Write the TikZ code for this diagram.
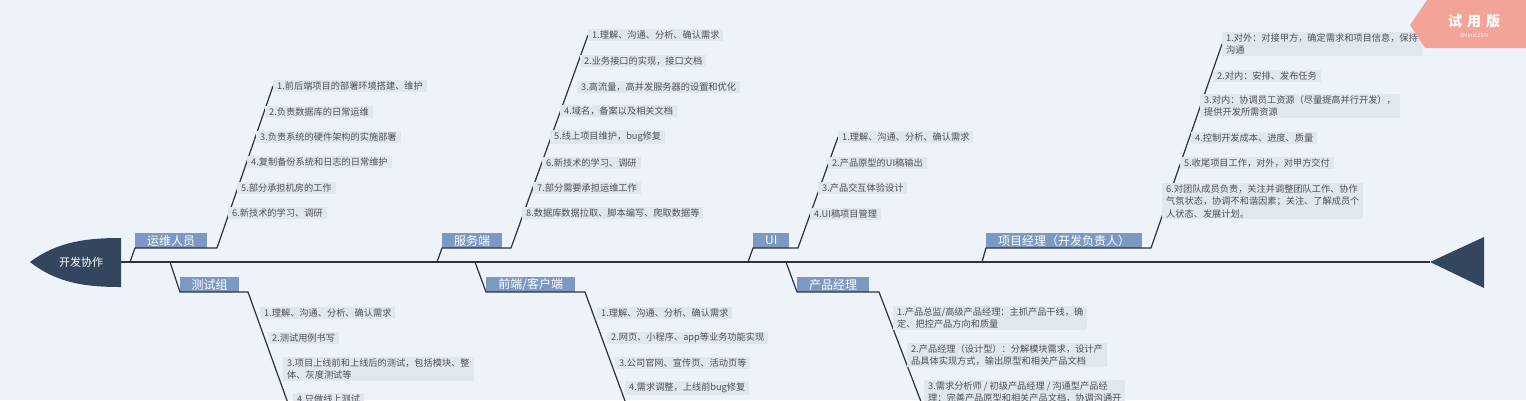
\documentclass[tikz,border=0pt]{standalone}
\usepackage{fontspec}
\setmainfont{Noto Sans CJK SC}

\definecolor{bgc}{RGB}{238,243,249}
\definecolor{itemc}{RGB}{225,231,239}
\definecolor{lblc}{RGB}{124,153,196}
\definecolor{bonec}{RGB}{45,50,60}
\definecolor{headc}{RGB}{52,70,94}
\definecolor{txtc}{RGB}{78,80,84}
\definecolor{wmc}{RGB}{244,163,153}

\tikzset{
  item/.style={fill=itemc, text=txtc, anchor=west, inner xsep=4pt, inner ysep=1.5pt,
    align=left, font=\fontsize{9.2}{12.5}\selectfont},
  lbl/.style={fill=lblc, text=white, anchor=south west, inner sep=0pt,
    minimum height=14.5pt, font=\fontsize{12}{14}\selectfont},
  bone/.style={draw=bonec, line width=1.2pt},
}

\begin{document}
\begin{tikzpicture}[x=1pt,y=-1pt]
\useasboundingbox (0,0) rectangle (1526,400);
\clip (0,0) rectangle (1526,400);
\fill[bgc] (0,0) rectangle (1526,400);

% fish head, spine and tail
\coordinate (hd) at (121,262);
\coordinate (tl) at (1430,262);
\fill[headc] (30,262) .. controls (58,241) and (88,238) .. (121,238)
  -- (121,287) .. controls (88,287) and (58,284) .. (30,262) -- cycle;
\node[text=white, font=\fontsize{11}{13}\selectfont] (head) at (81,262) {开发协作};
\draw[bone] (hd) -- (tl);
\fill[headc] (tl) -- (1484,237) -- (1484,288) -- cycle;

% 运维人员
\coordinate (s1) at (130,262);
\coordinate (e1) at (217,248);
\coordinate (t1) at (273,86);
\node[lbl, minimum width=72] (yw) at (135,248) {运维人员};
\draw[bone] (s1) -- (yw.south west) -- (e1) -- (t1);
\node[item] (yw1) at (t1) {1.前后端项目的部署环境搭建、维护};
\node[item] (yw2) at (265,112) {2.负责数据库的日常运维};
\node[item] (yw3) at (256,137) {3.负责系统的硬件架构的实施部署};
\node[item] (yw4) at (247,162) {4.复制备份系统和日志的日常维护};
\node[item] (yw5) at (237,188) {5.部分承担机房的工作};
\node[item] (yw6) at (228,213) {6.新技术的学习、调研};

% 服务端
\coordinate (s2) at (437,262);
\coordinate (e2) at (511,248);
\coordinate (t2) at (588,35);
\node[lbl, minimum width=60] (fw) at (442,248) {服务端};
\draw[bone] (s2) -- (fw.south west) -- (e2) -- (t2);
\node[item] (fw1) at (t2) {1.理解、沟通、分析、确认需求};
\node[item] (fw2) at (580,61) {2.业务接口的实现，接口文档};
\node[item] (fw3) at (577,87) {3.高流量，高并发服务器的设置和优化};
\node[item] (fw4) at (560,111) {4.域名，备案以及相关文档};
\node[item] (fw5) at (550,137) {5.线上项目维护，bug修复};
\node[item] (fw6) at (542,163) {6.新技术的学习、调研};
\node[item] (fw7) at (533,188) {7.部分需要承担运维工作};
\node[item] (fw8) at (522,213) {8.数据库数据拉取、脚本编写、爬取数据等};

% UI
\coordinate (s3) at (748,262);
\coordinate (e3) at (798,248);
\coordinate (t3) at (838,137);
\node[lbl, minimum width=36] (ui) at (753,248) {UI};
\draw[bone] (s3) -- (ui.south west) -- (e3) -- (t3);
\node[item] (ui1) at (t3) {1.理解、沟通、分析、确认需求};
\node[item] (ui2) at (828,163) {2.产品原型的UI稿输出};
\node[item] (ui3) at (818,188) {3.产品交互体验设计};
\node[item] (ui4) at (810,214) {4.UI稿项目管理};

% 项目经理
\coordinate (s4) at (982,262);
\coordinate (e4) at (1151,248);
\coordinate (t4) at (1222,44);
\node[lbl, minimum width=156] (pm) at (986,248) {项目经理（开发负责人）};
\draw[bone] (s4) -- (pm.south west) -- (e4) -- (t4);
\node[item] (pm1) at (t4) {1.对外：对接甲方，确定需求和项目信息，保持\\沟通};
\node[item] (pm2) at (1213,76) {2.对内：安排、发布任务};
\node[item] (pm3) at (1200,106) {3.对内：协调员工资源（尽量提高并行开发），\\提供开发所需资源};
\node[item] (pm4) at (1191,138) {4.控制开发成本、进度、质量};
\node[item] (pm5) at (1180,163) {5.收尾项目工作，对外，对甲方交付};
\node[item] (pm6) at (1162,201) {6.对团队成员负责，关注并调整团队工作、协作\\气氛状态，协调不和谐因素；关注、了解成员个\\人状态、发展计划。};

% 测试组
\coordinate (s5) at (170,262);
\coordinate (e5) at (248,292);
\coordinate (b5) at (294,420);
\node[lbl, minimum width=59] (cs) at (180,292) {测试组};
\draw[bone] (s5) -- (cs.south west) -- (e5) -- (b5);
\node[item] (cs1) at (260,313) {1.理解、沟通、分析、确认需求};
\node[item] (cs2) at (268,338) {2.测试用例书写};
\node[item] (cs3) at (283,369) {3.项目上线前和上线后的测试，包括模块、整\\体、灰度测试等};
\node[item] (cs4) at (293,399) {4.只做线上测试};

% 前端/客户端
\coordinate (s6) at (475,262);
\coordinate (e6) at (585,292);
\coordinate (b6) at (632,420);
\node[lbl, minimum width=89] (qd) at (486,292) {前端/客户端};
\draw[bone] (s6) -- (qd.south west) -- (e6) -- (b6);
\node[item] (qd1) at (597,313) {1.理解、沟通、分析、确认需求};
\node[item] (qd2) at (607,338) {2.网页、小程序、app等业务功能实现};
\node[item] (qd3) at (615,363) {3.公司官网、宣传页、活动页等};
\node[item] (qd4) at (625,388) {4.需求调整，上线前bug修复};

% 产品经理
\coordinate (s7) at (786,262);
\coordinate (e7) at (879,292);
\coordinate (b7) at (928,420);
\node[lbl, minimum width=72] (cp) at (797,292) {产品经理};
\draw[bone] (s7) -- (cp.south west) -- (e7) -- (b7);
\node[item] (cp1) at (893,318) {1.产品总监/高级产品经理：主抓产品干线，确\\定、把控产品方向和质量};
\node[item] (cp2) at (907,355) {2.产品经理（设计型）：分解模块需求，设计产\\品具体实现方式，输出原型和相关产品文档};
\node[item] (cp3) at (924,392) {3.需求分析师 / 初级产品经理 / 沟通型产品经\\理：完善产品原型和相关产品文档，协调沟通开};

% trial mark
\fill[wmc] (1410,25) -- (1427,0) -- (1526,0) -- (1526,48) -- (1425,48) -- cycle;
\node[text=white, font=\fontsize{14}{16}\selectfont\bfseries] (wm) at (1474,21) {试\hspace{5pt}用\hspace{5pt}版};
\node[text=white!85!wmc, font=\fontsize{5.5}{6}\selectfont] (wmsub) at (1474,35) {XMind:ZEN};
\end{tikzpicture}
\end{document}
